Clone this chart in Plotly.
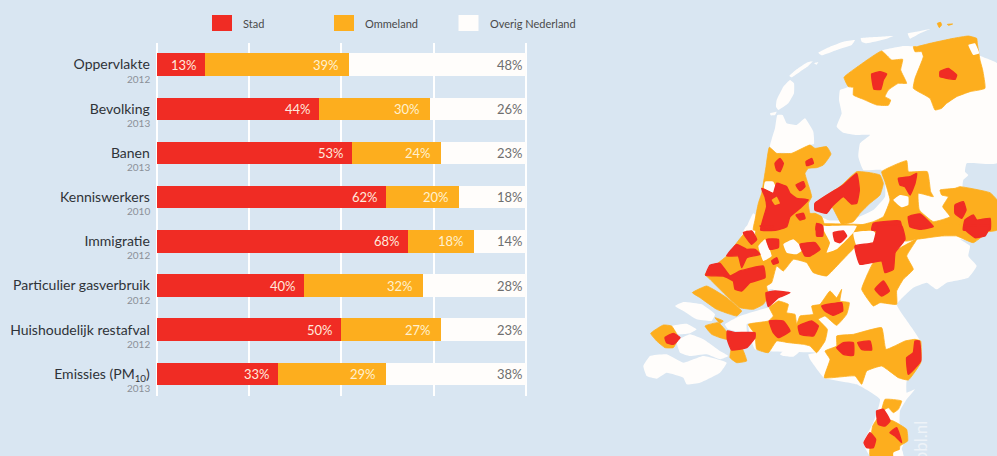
import plotly.graph_objects as go

categories = ["Oppervlakte", "Bevolking", "Banen", "Kenniswerkers", "Immigratie",
              "Particulier gasverbruik", "Huishoudelijk restafval", "Emissies (PM<sub>10</sub>)"]
years = ["2012", "2013", "2013", "2010", "2012", "2012", "2012", "2013"]
stad = [13, 44, 53, 62, 68, 40, 50, 33]
ommeland = [39, 30, 24, 20, 18, 32, 27, 29]
overig = [48, 26, 23, 18, 14, 28, 23, 38]
series_names = ["Stad", "Ommeland", "Overig Nederland"]
grid_ticks = [0, 25, 50, 75, 100]

BG, RED, ORANGE, WHITE = "#d9e6f2", "#f02c24", "#fdae1e", "#fffdfb"
W, H = 997, 456
PX = 369.5 / 100

# Map outlines, top half and bottom half
top_white = [
 [(410,300),(430,260),(450,240),(462,250),(462,280),(445,310),(415,330),(408,320)],
 [(390,340),(410,335),(405,345),(392,346)],
 [(448,228),(470,208),(500,188),(518,184),(505,198),(480,215),(455,232)],
 [(522,190),(535,186),(530,194)],
 [(535,158),(570,140),(610,125),(645,120),(635,135),(590,150),(545,166)],
 [(662,115),(690,112),(760,108),(735,118),(680,130),(665,125)],
 [(803,100),(830,95),(870,87),(840,100),(810,116)],
 [(612,232),(725,153),(730,150),(790,138),(850,140),(990,120),(1015,165),(1071,190),(1071,490),(980,490),(975,515),(985,525),(970,540),(968,560),(1071,600),(1071,690),(620,690),(640,660),(700,630),(735,590),(735,540),(725,510),(670,510),(655,470),(660,430),(690,405),(650,405),(610,398),(590,380),(605,340),(597,300),(600,270),(625,260)],
 [(390,440),(405,385),(412,345),(428,345),(440,370),(470,375),(495,355),(520,395),(522,432),(510,435),(460,460),(420,458),(410,460)],
 [(318,690),(340,640),(360,660),(350,690)],
 [(540,650),(600,680),(600,690),(550,690)],
]
top_orange = [
 [(892,70),(902,67),(905,75),(898,83)],
 [(922,73),(938,72),(925,76)],
 [(612,232),(660,195),(725,153),(755,180),(788,178),(782,210),(800,250),(775,250),(745,270),(735,290),(752,300),(745,316),(710,315),(670,298),(640,285),(640,262),(625,260)],
 [(830,140),(870,130),(940,115),(985,108),(1010,115),(1012,130),(1020,180),(1028,210),(1035,265),(990,275),(950,290),(920,310),(905,325),(885,330),(870,295),(820,265),(825,235),(850,170),(845,155),(825,155),(820,140)],
 [(388,442),(410,460),(455,460),(510,435),(525,445),(560,440),(573,462),(550,495),(530,503),(505,505),(495,520),(510,570),(515,590),(505,610),(510,640),(525,640),(545,650),(555,690),(340,690),(345,660),(355,610),(365,580),(370,550),(378,500)],
 [(650,515),(690,518),(720,525),(730,550),(720,585),(690,610),(660,640),(640,665),(605,672),(575,620),(525,630),(525,610),(600,560)],
 [(725,515),(800,482),(805,515),(862,515),(872,575),(880,590),(835,580),(838,630),(880,665),(930,650),(908,620),(925,590),(905,585),(900,570),(945,565),(960,560),(1050,578),(1071,600),(1071,690),(610,690),(700,665),(730,650),(750,600),(735,545)],
]
top_holes = [
 [(985,135),(1005,130),(1018,160),(1000,165)],
 [(375,545),(400,545),(410,570),(400,580),(372,565)],
 [(760,600),(780,585),(805,590),(805,615),(785,622)],
]
top_red = [
 [(695,222),(720,215),(740,222),(730,240),(722,268),(702,268),(697,245)],
 [(900,215),(925,205),(950,225),(945,238),(920,235),(900,230)],
 [(365,565),(400,580),(410,550),(440,560),(450,580),(470,595),(505,600),(480,625),(450,650),(440,680),(410,690),(362,690),(380,620),(375,590)],
 [(405,490),(420,475),(430,490),(420,515),(410,510)],
 [(498,485),(515,475),(520,490),(500,497)],
 [(468,555),(490,545),(495,560),(480,572)],
 [(525,610),(610,555),(650,520),(658,570),(650,610),(635,612),(610,590),(575,620),(560,640),(525,630)],
 [(468,645),(490,640),(495,655),(480,660)],
 [(530,670),(545,675),(548,690),(528,690)],
 [(775,535),(810,530),(830,520),(825,550),(810,585),(795,560),(780,555)],
 [(945,615),(970,605),(978,630),(965,655),(945,640)],
 [(975,660),(1000,645),(1010,660),(1050,655),(1050,690),(970,690)],
 [(700,670),(780,663),(785,690),(695,690)],
 [(805,650),(840,642),(880,680),(840,688),(810,680)],
]
top_orange_spots = [[(395,600),(410,590),(420,610),(405,615)]]

bottom_white = [
 [(320,0),(1050,0),(1010,45),(960,40),(990,60),(985,90),(1010,120),(985,155),(920,170),(890,190),(860,170),(820,185),(770,235),(805,290),(838,340),(842,410),(800,465),(800,500),(825,490),(800,520),(780,555),(780,610),(803,620),(785,670),(790,690),(690,690),(670,650),(700,590),(720,520),(650,475),(552,455),(510,400),(505,385),(530,380),(345,370),(325,295),(385,250),(400,190),(260,210)],
 [(105,240),(130,228),(185,235),(225,265),(215,285),(170,280),(130,255)],
 [(95,300),(140,293),(170,310),(150,322),(115,325)],
 [(110,345),(150,325),(190,340),(240,375),(265,390),(240,400),(200,385),(150,390),(120,380)],
 [(10,420),(30,390),(80,385),(130,410),(190,390),(260,410),(240,440),(180,470),(140,475),(130,455),(80,440),(50,458),(20,450)],
 [(255,295),(300,270),(390,245),(400,270),(320,295),(320,320),(265,310)],
 [(420,385),(450,358),(490,365),(460,392),(430,390)],
]
bottom_orange = [
 [(195,145),(260,90),(320,15),(345,30),(350,0),(700,0),(720,40),(650,60),(600,110),(560,150),(520,140),(500,110),(460,100),(430,135),(410,120),(395,170),(380,180),(385,210),(370,235),(340,250),(300,245),(260,210),(210,160)],
 [(157,200),(200,180),(260,215),(305,255),(290,270),(230,250),(180,215)],
 [(32,322),(70,297),(95,300),(115,335),(100,365),(75,365),(50,345)],
 [(195,300),(235,290),(262,320),(262,340),(240,335),(215,325)],
 [(225,275),(250,285),(240,292)],
 [(760,80),(830,40),(800,90),(820,130),(790,160),(770,195),(770,235),(720,230),(700,240),(665,190),(680,150),(700,110),(725,105),(735,140),(760,130)],
 [(790,0),(1060,0),(1000,50),(950,30),(905,30),(830,40),(795,45)],
 [(388,245),(400,235),(415,225),(445,235),(440,260),(465,265),(470,295),(480,270),(520,265),(515,240),(540,235),(570,195),(590,215),(605,190),(600,225),(628,230),(620,265),(590,298),(555,270),(535,280),(562,310),(555,345),(530,380),(510,360),(490,355),(445,350),(410,345),(385,380),(350,370),(345,325),(325,295),(385,285),(400,270)],
 [(275,365),(305,365),(320,405),(290,410),(270,395)],
 [(555,375),(590,360),(590,330),(640,325),(725,305),(738,370),(795,345),(825,340),(842,345),(842,410),(805,462),(775,455),(725,420),(680,435),(665,475),(645,450),(553,455),(570,400)],
 [(735,520),(785,525),(775,550),(760,560),(745,545),(725,555)],
 [(698,600),(715,575),(760,585),(800,610),(803,645),(780,660),(775,690),(690,690),(690,660)],
]
bottom_holes = [
 [(355,60),(375,40),(395,90),(370,105)],
 [(430,55),(460,40),(490,70),(470,85),(440,80)],
 [(560,80),(590,70),(640,20),(650,0),(560,0),(545,0),(570,50)],
 [(640,20),(700,15),(720,40),(650,60)],
 [(760,680),(785,670),(790,690),(760,690)],
]
bottom_red = [
 [(645,60),(700,50),(715,0),(785,0),(795,40),(765,80),(760,130),(735,140),(725,105),(660,115)],
 [(705,190),(730,165),(748,195),(725,210)],
 [(975,0),(1050,0),(1035,30),(1005,35),(980,15)],
 [(810,0),(870,0),(840,8)],
 [(260,90),(290,55),(320,70),(345,70),(360,85),(320,95),(305,125),(295,90)],
 [(197,148),(210,118),(240,112),(270,150),(300,135),(370,120),(375,155),(330,170),(305,195),(285,190),(280,165),(250,150)],
 [(310,20),(335,15),(350,40),(335,55)],
 [(380,40),(415,40),(415,65),(390,70)],
 [(395,105),(410,95),(415,110),(400,115)],
 [(480,55),(525,50),(540,70),(510,90),(495,90)],
 [(580,20),(610,15),(620,30),(600,50),(585,45)],
 [(530,0),(548,0),(548,30),(530,30)],
 [(360,0),(400,0),(380,10)],
 [(378,200),(405,195),(450,200),(415,215),(385,242)],
 [(262,315),(285,320),(345,320),(345,335),(320,365),(275,372),(262,340)],
 [(388,285),(430,285),(450,315),(415,335),(400,320)],
 [(475,300),(515,285),(535,300),(520,330),(480,325)],
 [(545,240),(605,230),(608,255),(580,268),(555,255)],
 [(75,335),(100,322),(120,335),(100,355),(80,350)],
 [(590,365),(610,350),(640,350),(640,388),(610,385)],
 [(653,350),(690,345),(695,372),(665,370)],
 [(825,345),(838,345),(842,405),(805,445),(800,395),(820,380)],
 [(710,555),(730,550),(750,585),(735,600),(715,595)],
 [(750,620),(770,605),(785,650),(765,630)],
 [(672,650),(690,620),(707,640),(700,665),(680,665)],
]

fig = go.Figure()
for name, vals, col in zip(series_names, [stad, ommeland, overig], [RED, ORANGE, WHITE]):
    fig.add_bar(y=categories, x=vals, name=name, orientation="h", marker=dict(color=col, line_width=0),
                showlegend=False, hoverinfo="x+y")

def add_map(polys, color, y0, lw=0.0):
    for p in polys:
        fig.add_scatter(x=[640 + a / 3 for a, _ in p] + [640 + p[0][0] / 3],
                        y=[y0 + b / 3 for _, b in p] + [y0 + p[0][1] / 3],
                        mode="lines", fill="toself", fillcolor=color,
                        line=dict(width=lw, color=color, shape="spline", smoothing=0.35),
                        xaxis="x2", yaxis="y2", hoverinfo="skip", showlegend=False)

add_map(top_white, WHITE, 0)
add_map(bottom_white, WHITE, 226)
add_map(top_orange, ORANGE, 0, 0.8)
add_map(bottom_orange, ORANGE, 226, 0.8)
add_map(top_holes, WHITE, 0)
add_map(bottom_holes, WHITE, 226)
add_map(top_red, RED, 0, 1.4)
add_map(bottom_red, RED, 226, 1.4)
add_map(top_orange_spots, ORANGE, 0)

ann = []
for i, cat in enumerate(categories):
    ann.append(dict(x=0, y=cat, xref="x", yref="y", text=years[i], showarrow=False, xanchor="right",
                    xshift=-5, yshift=-14, font=dict(size=10, color="#8b9098", family="Lato")))
    a, b, c = stad[i], ommeland[i], overig[i]
    for end, val, col, pad in [(a, a, "#ffe9dc", -6), (a + b, b, "#fff1d0", -8), (a + b + c, c, "#6e6e6e", -1)]:
        ann.append(dict(x=end, y=cat, xref="x", yref="y", text=f"{val}%", showarrow=False, xanchor="right",
                        xshift=pad, font=dict(size=13, color=col, family="Lato")))
for nm, col, x0 in zip(series_names, [RED, ORANGE, WHITE], [212, 334, 458.5]):
    ann.append(dict(x=(x0 + 29) , y=23, xref="x2", yref="y2", text=nm, showarrow=False, xanchor="left",
                    font=dict(size=11, color="#4a4a4a", family="Lato")))
ann.append(dict(x=920, y=419, xref="x2", yref="y2", text="www.pbl.nl", textangle=-90, showarrow=False,
                xanchor="center", yanchor="top", font=dict(size=17, color="#eef3f8", family="Lato")))

shapes = [dict(type="rect", xref="x2", yref="y2", x0=x0, x1=x0 + 20, y0=15, y1=31, fillcolor=col, line_width=0)
          for col, x0 in zip([RED, ORANGE, WHITE], [212, 334, 458.5])]

fig.update_layout(
    width=W, height=H, margin=dict(l=0, r=0, t=0, b=0), paper_bgcolor=BG, plot_bgcolor="rgba(0,0,0,0)",
    barmode="stack", bargap=0.49, annotations=ann, shapes=shapes,
    font=dict(family="Lato", size=14, color="#2f3338"),
    xaxis=dict(domain=[(156.5 - PX) / W, (526 + PX) / W], range=[-1, 101], tickvals=grid_ticks, showticklabels=False,
               showgrid=True, gridcolor="#ffffff", gridwidth=1.5, zeroline=False, ticks="", showline=False, fixedrange=True),
    yaxis=dict(domain=[1 - 396 / H, 1 - 42.5 / H], autorange=False, range=[7.5, -0.5], type="category",
               categoryorder="array", categoryarray=categories, showgrid=False, zeroline=False, ticks="",
               ticklabelstandoff=2, tickfont=dict(size=14, color="#2f3338", family="Lato"), fixedrange=True),
    xaxis2=dict(domain=[0, 1], range=[0, W], visible=False, anchor="y2", fixedrange=True),
    yaxis2=dict(domain=[0, 1], range=[H, 0], visible=False, anchor="x2", fixedrange=True),
)
fig.write_html("out.html", config=dict(displayModeBar=False),
               post_script="document.body.style.margin='0';document.documentElement.style.overflow='hidden';document.documentElement.style.background='%s';" % BG)
